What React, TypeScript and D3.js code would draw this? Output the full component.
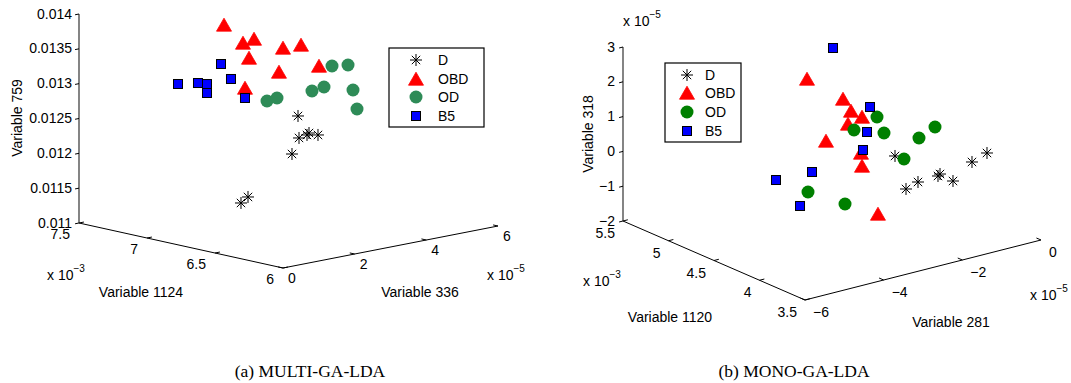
import React from 'react';
import * as d3 from 'd3';

// ---------- Panel (a) MULTI-GA-LDA : [Variable 1124, Variable 336, Variable 759]
const multiD: number[][] = [
  [6.60e-3, 2.696e-5, 0.012653],
  [6.63e-3, 2.838e-5, 0.012310],
  [6.60e-3, 2.947e-5, 0.012355],
  [6.57e-3, 2.889e-5, 0.012402],
  [6.54e-3, 3.026e-5, 0.012373],
  [6.675e-3, 2.813e-5, 0.012063],
  [6.75e-3, 1.674e-5, 0.011442],
  [6.72e-3, 1.756e-5, 0.011533],
];
const multiOBD: number[][] = [
  [6.825e-3, 1.485e-5, 0.013984],
  [6.75e-3, 1.730e-5, 0.013733],
  [6.675e-3, 1.753e-5, 0.013820],
  [6.72e-3, 1.784e-5, 0.013525],
  [6.75e-3, 1.786e-5, 0.013081],
  [6.60e-3, 2.277e-5, 0.013671],
  [6.57e-3, 2.666e-5, 0.013688],
  [6.63e-3, 2.279e-5, 0.013313],
  [6.525e-3, 2.997e-5, 0.013372],
];
const multiOD: number[][] = [
  [6.525e-3, 1.546e-5, 0.013016],
  [6.495e-3, 1.711e-5, 0.013055],
  [6.45e-3, 2.517e-5, 0.013094],
  [6.42e-3, 2.738e-5, 0.013142],
  [6.375e-3, 2.791e-5, 0.013458],
  [6.33e-3, 3.067e-5, 0.013464],
  [6.375e-3, 3.377e-5, 0.013054],
  [6.30e-3, 3.204e-5, 0.012831],
];
const multiB5: number[][] = [
  [7.05e-3, 1.055e-5, 0.013083],
  [6.975e-3, 1.328e-5, 0.013102],
  [6.90e-3, 1.295e-5, 0.013123],
  [6.93e-3, 1.409e-5, 0.012970],
  [6.825e-3, 1.401e-5, 0.013432],
  [6.75e-3, 1.395e-5, 0.013250],
  [6.675e-3, 1.501e-5, 0.012999],
];
const multiTicksX = [6e-3, 6.5e-3, 7e-3, 7.5e-3];
const multiTickLabelsX = ['6', '6.5', '7', '7.5'];
const multiTicksY = [0, 2e-5, 4e-5, 6e-5];
const multiTickLabelsY = ['0', '2', '4', '6'];
const multiTicksZ = [0.011, 0.0115, 0.012, 0.0125, 0.013, 0.0135, 0.014];
const multiTickLabelsZ = ['0.011', '0.0115', '0.012', '0.0125', '0.013', '0.0135', '0.014'];

// ---------- Panel (b) MONO-GA-LDA : [Variable 1120, Variable 281, Variable 318]
const monoD: number[][] = [
  [4.3e-3, -1.861e-5, 0.041e-5],
  [4.1e-3, -2.044e-5, -0.628e-5],
  [4.1e-3, -1.739e-5, -0.515e-5],
  [4.0e-3, -1.462e-5, -0.308e-5],
  [4.0e-3, -1.411e-5, -0.266e-5],
  [3.9e-3, -1.312e-5, -0.382e-5],
  [3.9e-3, -0.829e-5, 0.026e-5],
  [3.8e-3, -0.679e-5, 0.355e-5],
];
const monoOBD: number[][] = [
  [4.9e-3, -2.710e-5, 1.816e-5],
  [4.6e-3, -2.489e-5, 1.518e-5],
  [4.5e-3, -2.517e-5, 1.295e-5],
  [4.4e-3, -2.468e-5, 1.222e-5],
  [4.6e-3, -2.362e-5, 0.764e-5],
  [4.7e-3, -2.690e-5, 0.256e-5],
  [4.5e-3, -2.263e-5, 0.015e-5],
  [4.5e-3, -2.237e-5, -0.366e-5],
  [4.2e-3, -2.525e-5, -1.322e-5],
];
const monoOD: number[][] = [
  [4.4e-3, -2.087e-5, 1.113e-5],
  [4.5e-3, -2.441e-5, 0.727e-5],
  [4.3e-3, -2.141e-5, 0.782e-5],
  [4.1e-3, -1.714e-5, 0.743e-5],
  [4.0e-3, -1.538e-5, 1.122e-5],
  [4.2e-3, -1.864e-5, 0.069e-5],
  [4.8e-3, -2.916e-5, -1.258e-5],
  [4.5e-3, -2.669e-5, -1.334e-5],
];
const monoB5: number[][] = [
  [4.7e-3, -2.512e-5, 2.877e-5],
  [4.4e-3, -2.265e-5, 1.451e-5],
  [4.5e-3, -2.110e-5, 0.575e-5],
  [4.6e-3, -1.981e-5, -0.093e-5],
  [4.9e-3, -2.583e-5, -0.893e-5],
  [5.0e-3, -3.267e-5, -1.040e-5],
  [4.8e-3, -3.119e-5, -1.602e-5],
];
const monoTicksX = [3.5e-3, 4e-3, 4.5e-3, 5e-3, 5.5e-3];
const monoTickLabelsX = ['3.5', '4', '4.5', '5', '5.5'];
const monoTicksY = [-6e-5, -4e-5, -2e-5, 0];
const monoTickLabelsY = ['\u22126', '\u22124', '\u22122', '0'];
const monoTicksZ = [-2e-5, -1e-5, 0, 1e-5, 2e-5, 3e-5];
const monoTickLabelsZ = ['\u22122', '\u22121', '0', '1', '2', '3'];

const classNames = ['D', 'OBD', 'OD', 'B5'];

const FONT = '"Liberation Sans", Arial, Helvetica, sans-serif';
const FS = 14;

type Vec = [number, number];

interface PanelCfg {
  origin: Vec; eU: Vec; eV: Vec; eW: Vec;
  domU: [number, number]; domV: [number, number]; domW: [number, number];
  series: number[][][];
  green: string;
  ticksX: number[]; labelsX: string[];
  ticksY: number[]; labelsY: string[];
  ticksZ: number[]; labelsZ: string[];
  xLabelDx: number; xLabelDy: number; yLabelDx: number; yLabelDy: number; zLabelDx: number;
  labelX: string; labelY: string; labelZ: string;
  labelXPos: Vec; labelYPos: Vec; labelZPos: Vec;
  expX: Vec; expXText: string; expY: Vec; expYText: string; expZ: Vec | null; expZText: string;
  legend: { x: number; y: number; w: number; h: number; sx: number; tx: number; rows: number[] };
  caption: string; captionPos: Vec;
}

function Marker({ kind, x, y, green }: { kind: number; x: number; y: number; green: string }) {
  if (kind === 0) {
    const r = 6, d = 4.2;
    return (
      <g stroke="#000" strokeWidth={1}>
        <line x1={x - r} y1={y} x2={x + r} y2={y} />
        <line x1={x} y1={y - r} x2={x} y2={y + r} />
        <line x1={x - d} y1={y - d} x2={x + d} y2={y + d} />
        <line x1={x - d} y1={y + d} x2={x + d} y2={y - d} />
      </g>
    );
  }
  if (kind === 1) {
    return (
      <path d={`M${x},${y - 6.8}L${x + 7.5},${y + 6.2}L${x - 7.5},${y + 6.2}Z`} fill="#FF0000" stroke="#FF0000" strokeWidth={0.8} />
    );
  }
  if (kind === 2) {
    return <circle cx={x} cy={y} r={6.5} fill={green} />;
  }
  return <rect x={x - 4.5} y={y - 4.5} width={9} height={9} fill="#0000FF" stroke="#000" strokeWidth={1} />;
}

function Panel({ c }: { c: PanelCfg }) {
  const u = d3.scaleLinear().domain(c.domU).range([0, 1]);
  const v = d3.scaleLinear().domain(c.domV).range([0, 1]);
  const w = d3.scaleLinear().domain(c.domW).range([0, 1]);
  const proj = (a: number, b: number, z: number): Vec => {
    const uu = u(a), vv = v(b), ww = w(z);
    return [
      c.origin[0] + uu * c.eU[0] + vv * c.eV[0] + ww * c.eW[0],
      c.origin[1] + uu * c.eU[1] + vv * c.eV[1] + ww * c.eW[1],
    ];
  };
  const unit = (e: Vec): Vec => { const l = Math.hypot(e[0], e[1]); return [e[0] / l, e[1] / l]; };
  const uV = unit(c.eV), uU = unit(c.eU);
  const [u0, u1] = c.domU, [v0, v1] = c.domV, [w0, w1] = c.domW;
  const xA = proj(u0, v0, w0), xB = proj(u1, v0, w0);
  const yA = proj(u0, v0, w0), yB = proj(u0, v1, w0);
  const zA = proj(u1, v0, w0), zB = proj(u1, v0, w1);
  const tl = 5;

  return (
    <g fontFamily={FONT} fontSize={FS} fill="#000">
      {/* axes */}
      <g stroke="#000" strokeWidth={1} fill="none">
        <line x1={xA[0]} y1={xA[1]} x2={xB[0]} y2={xB[1]} />
        <line x1={yA[0]} y1={yA[1]} x2={yB[0]} y2={yB[1]} />
        <line x1={zA[0]} y1={zA[1]} x2={zB[0]} y2={zB[1]} stroke="#333" strokeWidth={1.2} />
        {c.ticksX.map((t, i) => { const p = proj(t, v0, w0); return <line key={'tx' + i} x1={p[0]} y1={p[1]} x2={p[0] + uV[0] * tl} y2={p[1] + uV[1] * tl} />; })}
        {c.ticksY.map((t, i) => { const p = proj(u0, t, w0); return <line key={'ty' + i} x1={p[0]} y1={p[1]} x2={p[0] + uU[0] * tl} y2={p[1] + uU[1] * tl} />; })}
        {c.ticksZ.map((t, i) => { const p = proj(u1, v0, t); return <line key={'tz' + i} x1={p[0]} y1={p[1]} x2={p[0] - uV[0] * 4} y2={p[1] - uV[1] * 4} />; })}
      </g>
      {c.ticksX.map((t, i) => { const p = proj(t, v0, w0); return <text key={'lx' + i} x={p[0] + c.xLabelDx} y={p[1] + c.xLabelDy} textAnchor="end">{c.labelsX[i]}</text>; })}
      {c.ticksY.map((t, i) => { const p = proj(u0, t, w0); return <text key={'ly' + i} x={p[0] + c.yLabelDx} y={p[1] + c.yLabelDy} textAnchor="start">{c.labelsY[i]}</text>; })}
      {c.ticksZ.map((t, i) => { const p = proj(u1, v0, t); return <text key={'lz' + i} x={p[0] + c.zLabelDx} y={p[1] + 4.5} textAnchor="end">{c.labelsZ[i]}</text>; })}
      {/* exponent labels */}
      <text x={c.expX[0]} y={c.expX[1]}>x 10<tspan dy={-8} fontSize={10}>{c.expXText}</tspan></text>
      <text x={c.expY[0]} y={c.expY[1]}>x 10<tspan dy={-8} fontSize={10}>{c.expYText}</tspan></text>
      {c.expZ && <text x={c.expZ[0]} y={c.expZ[1]}>x 10<tspan dy={-8} fontSize={10}>{c.expZText}</tspan></text>}
      {/* axis labels */}
      <text x={c.labelXPos[0]} y={c.labelXPos[1]} textAnchor="middle">{c.labelX}</text>
      <text x={c.labelYPos[0]} y={c.labelYPos[1]} textAnchor="middle">{c.labelY}</text>
      <text transform={`translate(${c.labelZPos[0]},${c.labelZPos[1]}) rotate(-90)`} textAnchor="middle">{c.labelZ}</text>
      {/* points */}
      {c.series.map((s, k) => (
        <g key={'s' + k}>
          {s.map((d, i) => { const p = proj(d[0], d[1], d[2]); return <Marker key={i} kind={k} x={p[0]} y={p[1]} green={c.green} />; })}
        </g>
      ))}
      {/* legend */}
      <rect x={c.legend.x} y={c.legend.y} width={c.legend.w} height={c.legend.h} fill="#fff" stroke="#000" strokeWidth={1.2} />
      {classNames.map((n, i) => (
        <g key={'lg' + i}>
          <Marker kind={i} x={c.legend.sx} y={c.legend.rows[i]} green={c.green} />
          <text x={c.legend.tx} y={c.legend.rows[i] + 5}>{n}</text>
        </g>
      ))}
      {/* caption */}
      <text x={c.captionPos[0]} y={c.captionPos[1]} textAnchor="middle" fontFamily='"Liberation Serif", "Times New Roman", serif' fontSize={17.5}>{c.caption}</text>
    </g>
  );
}

const panelA: PanelCfg = {
  origin: [283, 268], eU: [-204, -45], eV: [215, -42], eW: [0, -209],
  domU: [6e-3, 7.5e-3], domV: [0, 6e-5], domW: [0.011, 0.014],
  series: [multiD, multiOBD, multiOD, multiB5],
  green: '#2E8B57',
  ticksX: multiTicksX, labelsX: multiTickLabelsX,
  ticksY: multiTicksY, labelsY: multiTickLabelsY,
  ticksZ: multiTicksZ, labelsZ: multiTickLabelsZ,
  xLabelDx: -9, xLabelDy: 15.5, yLabelDx: 5, yLabelDy: 15, zLabelDx: -7,
  labelX: 'Variable 1124', labelY: 'Variable 336', labelZ: 'Variable 759',
  labelXPos: [141, 297], labelYPos: [420, 297], labelZPos: [22, 118],
  expX: [47, 280], expXText: '\u22123', expY: [487, 280], expYText: '\u22125', expZ: null, expZText: '',
  legend: { x: 389, y: 48, w: 95, h: 79, sx: 416, tx: 438, rows: [60, 79, 97, 116] },
  caption: '(a) MULTI-GA-LDA', captionPos: [310, 377],
};

const panelB: PanelCfg = {
  origin: [805, 300], eU: [-182, -79], eV: [236, -60], eW: [0, -174],
  domU: [3.5e-3, 5.5e-3], domV: [-6e-5, 0], domW: [-2e-5, 3e-5],
  series: [monoD, monoOBD, monoOD, monoB5],
  green: '#008000',
  ticksX: monoTicksX, labelsX: monoTickLabelsX,
  ticksY: monoTicksY, labelsY: monoTickLabelsY,
  ticksZ: monoTicksZ, labelsZ: monoTickLabelsZ,
  xLabelDx: -8, xLabelDy: 17, yLabelDx: 8, yLabelDy: 17, zLabelDx: -8,
  labelX: 'Variable 1120', labelY: 'Variable 281', labelZ: 'Variable 318',
  labelXPos: [670, 322], labelYPos: [951, 327], labelZPos: [593, 134],
  expX: [583, 286], expXText: '\u22123', expY: [1030, 300], expYText: '\u22125', expZ: [623, 26], expZText: '\u22125',
  legend: { x: 665, y: 63, w: 76, h: 79, sx: 687, tx: 705, rows: [75, 93, 112, 131] },
  caption: '(b) MONO-GA-LDA', captionPos: [794, 377],
};

export default function App() {
  return (
    <svg width={1071} height={383} style={{ position: 'absolute', left: 0, top: 0, background: '#fff' }}>
      <rect width={1071} height={383} fill="#fff" />
      <Panel c={panelA} />
      <Panel c={panelB} />
    </svg>
  );
}
